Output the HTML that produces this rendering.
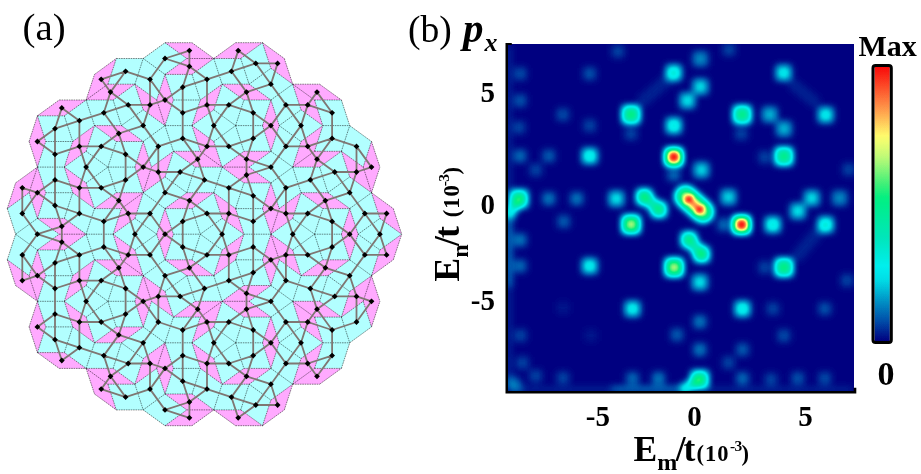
<!DOCTYPE html>
<html><head><meta charset="utf-8"><title>figure</title>
<style>html,body{margin:0;padding:0;background:#fff;width:921px;height:474px;overflow:hidden}svg{display:block}</style>
</head><body>
<svg width="921" height="474" viewBox="0 0 921 474">
<rect width="921" height="474" fill="#fff"/>
<path fill="#b2ffff" d="M37.4 115.8L64.3 115.8L72.7 141.5L45.7 141.5ZM37.4 167.1L64.3 167.1L72.7 192.7L45.7 192.7ZM37.4 250L64.3 250L72.7 275.7L45.7 275.7ZM37.4 301.3L64.3 301.3L72.7 326.9L45.7 326.9ZM86.1 100L113.1 100L121.4 125.6L94.5 125.6ZM107.9 167.1L134.9 167.1L143.2 192.7L116.3 192.7ZM86.1 234.2L113.1 234.2L121.4 259.8L94.5 259.8ZM107.9 301.3L134.9 301.3L143.2 326.9L116.3 326.9ZM107.9 384.2L134.9 384.2L143.2 409.9L116.3 409.9ZM165 74.4L192 74.4L200.3 100L173.3 100ZM165 125.6L192 125.6L200.3 151.3L173.3 151.3ZM165 208.6L192 208.6L200.3 234.2L173.3 234.2ZM186.8 275.7L213.8 275.7L222.1 301.3L195.2 301.3ZM165 342.8L192 342.8L200.3 368.4L173.4 368.4ZM213.8 58.5L240.7 58.5L249.1 84.2L222.1 84.2ZM235.6 125.6L262.5 125.6L270.9 151.3L243.9 151.3ZM235.6 208.6L262.5 208.6L270.9 234.2L243.9 234.2ZM235.6 259.8L262.5 259.8L270.9 285.5L243.9 285.5ZM235.6 342.8L262.5 342.8L270.9 368.4L243.9 368.4ZM314.5 100L341.4 100L349.7 125.6L322.8 125.6ZM292.7 167.1L319.6 167.1L327.9 192.7L301 192.7ZM314.5 234.2L341.4 234.2L349.7 259.8L322.8 259.8ZM314.5 317.1L341.4 317.1L349.7 342.8L322.8 342.8ZM37.4 352.6L64.3 352.6L72.7 326.9L45.7 326.9ZM37.4 301.3L64.3 301.3L72.7 275.7L45.7 275.7ZM37.4 218.4L64.3 218.4L72.7 192.7L45.7 192.7ZM37.4 167.1L64.3 167.1L72.7 141.5L45.7 141.5ZM86.1 368.4L113.1 368.4L121.4 342.8L94.5 342.8ZM107.9 301.3L134.9 301.3L143.2 275.7L116.3 275.7ZM86.1 234.2L113.1 234.2L121.4 208.6L94.5 208.6ZM107.9 167.1L134.9 167.1L143.2 141.5L116.3 141.5ZM107.9 84.2L134.9 84.2L143.2 58.5L116.3 58.5ZM165 394L192 394L200.3 368.4L173.4 368.4ZM165 342.8L192 342.8L200.3 317.1L173.4 317.1ZM165 259.8L192 259.8L200.3 234.2L173.3 234.2ZM186.8 192.7L213.8 192.7L222.1 167.1L195.2 167.1ZM165 125.6L192 125.6L200.3 100L173.3 100ZM213.8 409.9L240.7 409.9L249.1 384.2L222.1 384.2ZM235.6 342.8L262.5 342.8L270.9 317.1L243.9 317.1ZM235.6 259.8L262.5 259.8L270.9 234.2L243.9 234.2ZM235.6 208.6L262.5 208.6L270.9 182.9L243.9 182.9ZM235.6 125.6L262.5 125.6L270.9 100L243.9 100ZM314.5 368.4L341.4 368.4L349.7 342.8L322.8 342.8ZM292.7 301.3L319.6 301.3L327.9 275.7L301 275.7ZM314.5 234.2L341.4 234.2L349.7 208.6L322.8 208.6ZM314.5 151.3L341.4 151.3L349.7 125.6L322.8 125.6ZM262.5 42.7L270.9 68.3L249.1 84.2L240.7 58.5ZM213.8 58.5L222.1 84.2L200.3 100L192 74.4ZM134.9 84.2L143.2 109.8L121.4 125.6L113.1 100ZM86.1 100L94.5 125.6L72.7 141.5L64.3 115.8ZM292.7 84.2L301 109.8L279.2 125.6L270.9 100ZM235.6 125.6L243.9 151.3L222.1 167.1L213.8 141.5ZM165 125.6L173.3 151.3L151.5 167.1L143.2 141.5ZM107.9 167.1L116.3 192.7L94.5 208.6L86.1 182.9ZM29.1 192.7L37.4 218.4L15.6 234.2L7.3 208.6ZM341.4 151.3L349.7 176.9L327.9 192.7L319.6 167.1ZM292.7 167.1L301 192.7L279.2 208.6L270.9 182.9ZM213.8 192.7L222.1 218.4L200.3 234.2L192 208.6ZM156.7 234.2L165 259.8L143.2 275.7L134.9 250ZM86.1 234.2L94.5 259.8L72.7 275.7L64.3 250ZM371.5 192.7L379.9 218.4L358.1 234.2L349.7 208.6ZM314.5 234.2L322.8 259.8L301 275.7L292.7 250ZM235.6 259.8L243.9 285.5L222.1 301.3L213.8 275.7ZM186.8 275.7L195.2 301.3L173.4 317.1L165 291.5ZM107.9 301.3L116.3 326.9L94.5 342.8L86.1 317.1ZM363.2 301.3L371.5 326.9L349.7 342.8L341.4 317.1ZM292.7 301.3L301 326.9L279.2 342.8L270.9 317.1ZM235.6 342.8L243.9 368.4L222.1 384.2L213.8 358.6ZM156.7 368.4L165 394L143.2 409.9L134.9 384.2ZM401.7 234.2L379.9 250L358.1 234.2L379.9 218.4ZM371.5 192.7L349.7 208.6L327.9 192.7L349.7 176.9ZM322.8 125.6L301 141.5L279.2 125.6L301 109.8ZM292.7 84.2L270.9 100L249.1 84.2L270.9 68.3ZM371.5 275.7L349.7 291.5L327.9 275.7L349.7 259.8ZM314.5 234.2L292.7 250L270.9 234.2L292.7 218.4ZM292.7 167.1L270.9 182.9L249.1 167.1L270.9 151.3ZM235.6 125.6L213.8 141.5L192 125.6L213.8 109.8ZM186.8 58.5L165 74.4L143.2 58.5L165 42.7ZM322.8 342.8L301 358.6L279.2 342.8L301 326.9ZM292.7 301.3L270.9 317.1L249.1 301.3L270.9 285.5ZM243.9 234.2L222.1 250L200.3 234.2L222.1 218.4ZM186.8 192.7L165 208.6L143.2 192.7L165 176.9ZM165 125.6L143.2 141.5L121.4 125.6L143.2 109.8ZM292.7 384.2L270.9 400.1L249.1 384.2L270.9 368.4ZM235.6 342.8L213.8 358.6L192 342.8L213.8 326.9ZM186.8 275.7L165 291.5L143.2 275.7L165 259.8ZM156.7 234.2L134.9 250L113.1 234.2L134.9 218.4ZM107.9 167.1L86.1 182.9L64.3 167.1L86.1 151.3ZM186.8 409.9L165 425.7L143.2 409.9L165 394ZM165 342.8L143.2 358.6L121.4 342.8L143.2 326.9ZM107.9 301.3L86.1 317.1L64.3 301.3L86.1 285.5ZM59.2 234.2L37.4 250L15.6 234.2L37.4 218.4ZM262.5 425.7L240.7 409.9L249.1 384.2L270.9 400.1ZM292.7 384.2L270.9 368.4L279.2 342.8L301 358.6ZM341.4 317.1L319.6 301.3L327.9 275.7L349.7 291.5ZM371.5 275.7L349.7 259.8L358.1 234.2L379.9 250ZM213.8 409.9L192 394L200.3 368.4L222.1 384.2ZM235.6 342.8L213.8 326.9L222.1 301.3L243.9 317.1ZM292.7 301.3L270.9 285.5L279.2 259.8L301 275.7ZM314.5 234.2L292.7 218.4L301 192.7L322.8 208.6ZM363.2 167.1L341.4 151.3L349.7 125.6L371.5 141.5ZM134.9 384.2L113.1 368.4L121.4 342.8L143.2 358.6ZM165 342.8L143.2 326.9L151.5 301.3L173.4 317.1ZM213.8 275.7L192 259.8L200.3 234.2L222.1 250ZM235.6 208.6L213.8 192.7L222.1 167.1L243.9 182.9ZM292.7 167.1L270.9 151.3L279.2 125.6L301 141.5ZM86.1 368.4L64.3 352.6L72.7 326.9L94.5 342.8ZM107.9 301.3L86.1 285.5L94.5 259.8L116.3 275.7ZM156.7 234.2L134.9 218.4L143.2 192.7L165 208.6ZM186.8 192.7L165 176.9L173.3 151.3L195.2 167.1ZM235.6 125.6L213.8 109.8L222.1 84.2L243.9 100ZM29.1 275.7L7.3 259.8L15.6 234.2L37.4 250ZM86.1 234.2L64.3 218.4L72.7 192.7L94.5 208.6ZM107.9 167.1L86.1 151.3L94.5 125.6L116.3 141.5ZM156.7 100L134.9 84.2L143.2 58.5L165 74.4Z"/>
<path fill="#ffaaff" d="M59.2 100L86.1 100L64.3 115.8L37.4 115.8ZM59.2 234.2L86.1 234.2L64.3 250L37.4 250ZM107.9 84.2L134.9 84.2L113.1 100L86.1 100ZM116.3 192.7L143.2 192.7L121.4 208.6L94.5 208.6ZM116.3 326.9L143.2 326.9L121.4 342.8L94.5 342.8ZM186.8 58.5L213.8 58.5L192 74.4L165 74.4ZM186.8 192.7L213.8 192.7L192 208.6L165 208.6ZM195.2 301.3L222.1 301.3L200.3 317.1L173.4 317.1ZM186.8 409.9L213.8 409.9L192 425.7L165 425.7ZM235.6 42.7L262.5 42.7L240.7 58.5L213.8 58.5ZM243.9 151.3L270.9 151.3L249.1 167.1L222.1 167.1ZM243.9 285.5L270.9 285.5L249.1 301.3L222.1 301.3ZM243.9 368.4L270.9 368.4L249.1 384.2L222.1 384.2ZM314.5 151.3L341.4 151.3L319.6 167.1L292.7 167.1ZM322.8 259.8L349.7 259.8L327.9 275.7L301 275.7ZM314.5 368.4L341.4 368.4L319.6 384.2L292.7 384.2ZM59.2 368.4L86.1 368.4L64.3 352.6L37.4 352.6ZM59.2 234.2L86.1 234.2L64.3 218.4L37.4 218.4ZM107.9 384.2L134.9 384.2L113.1 368.4L86.1 368.4ZM116.3 275.7L143.2 275.7L121.4 259.8L94.5 259.8ZM116.3 141.5L143.2 141.5L121.4 125.6L94.5 125.6ZM186.8 409.9L213.8 409.9L192 394L165 394ZM186.8 275.7L213.8 275.7L192 259.8L165 259.8ZM195.2 167.1L222.1 167.1L200.3 151.3L173.3 151.3ZM186.8 58.5L213.8 58.5L192 42.7L165 42.7ZM235.6 425.7L262.5 425.7L240.7 409.9L213.8 409.9ZM243.9 317.1L270.9 317.1L249.1 301.3L222.1 301.3ZM243.9 182.9L270.9 182.9L249.1 167.1L222.1 167.1ZM243.9 100L270.9 100L249.1 84.2L222.1 84.2ZM314.5 317.1L341.4 317.1L319.6 301.3L292.7 301.3ZM322.8 208.6L349.7 208.6L327.9 192.7L301 192.7ZM314.5 100L341.4 100L319.6 84.2L292.7 84.2ZM284.3 58.5L292.7 84.2L270.9 68.3L262.5 42.7ZM156.7 100L165 125.6L143.2 109.8L134.9 84.2ZM314.5 100L322.8 125.6L301 109.8L292.7 84.2ZM213.8 141.5L222.1 167.1L200.3 151.3L192 125.6ZM86.1 182.9L94.5 208.6L72.7 192.7L64.3 167.1ZM363.2 167.1L371.5 192.7L349.7 176.9L341.4 151.3ZM235.6 208.6L243.9 234.2L222.1 218.4L213.8 192.7ZM134.9 250L143.2 275.7L121.4 259.8L113.1 234.2ZM29.1 275.7L37.4 301.3L15.6 285.5L7.3 259.8ZM393.3 208.6L401.7 234.2L379.9 218.4L371.5 192.7ZM292.7 250L301 275.7L279.2 259.8L270.9 234.2ZM165 291.5L173.4 317.1L151.5 301.3L143.2 275.7ZM86.1 317.1L94.5 342.8L72.7 326.9L64.3 301.3ZM314.5 317.1L322.8 342.8L301 326.9L292.7 301.3ZM213.8 358.6L222.1 384.2L200.3 368.4L192 342.8ZM107.9 384.2L116.3 409.9L94.5 394L86.1 368.4ZM29.1 141.5L37.4 167.1L45.7 141.5L37.4 115.8ZM156.7 100L165 125.6L173.3 100L165 74.4ZM29.1 192.7L37.4 218.4L45.7 192.7L37.4 167.1ZM134.9 167.1L143.2 192.7L151.5 167.1L143.2 141.5ZM262.5 125.6L270.9 151.3L279.2 125.6L270.9 100ZM29.1 275.7L37.4 301.3L45.7 275.7L37.4 250ZM156.7 234.2L165 259.8L173.3 234.2L165 208.6ZM262.5 208.6L270.9 234.2L279.2 208.6L270.9 182.9ZM363.2 167.1L371.5 192.7L379.9 167.1L371.5 141.5ZM29.1 326.9L37.4 352.6L45.7 326.9L37.4 301.3ZM134.9 301.3L143.2 326.9L151.5 301.3L143.2 275.7ZM262.5 259.8L270.9 285.5L279.2 259.8L270.9 234.2ZM341.4 234.2L349.7 259.8L358.1 234.2L349.7 208.6ZM156.7 368.4L165 394L173.4 368.4L165 342.8ZM262.5 342.8L270.9 368.4L279.2 342.8L270.9 317.1ZM363.2 301.3L371.5 326.9L379.9 301.3L371.5 275.7ZM393.3 259.8L371.5 275.7L379.9 250L401.7 234.2ZM314.5 151.3L292.7 167.1L301 141.5L322.8 125.6ZM363.2 301.3L341.4 317.1L349.7 291.5L371.5 275.7ZM292.7 218.4L270.9 234.2L279.2 208.6L301 192.7ZM213.8 109.8L192 125.6L200.3 100L222.1 84.2ZM314.5 368.4L292.7 384.2L301 358.6L322.8 342.8ZM235.6 259.8L213.8 275.7L222.1 250L243.9 234.2ZM165 176.9L143.2 192.7L151.5 167.1L173.3 151.3ZM107.9 84.2L86.1 100L94.5 74.4L116.3 58.5ZM284.3 409.9L262.5 425.7L270.9 400.1L292.7 384.2ZM213.8 326.9L192 342.8L200.3 317.1L222.1 301.3ZM134.9 218.4L113.1 234.2L121.4 208.6L143.2 192.7ZM86.1 151.3L64.3 167.1L72.7 141.5L94.5 125.6ZM156.7 368.4L134.9 384.2L143.2 358.6L165 342.8ZM86.1 285.5L64.3 301.3L72.7 275.7L94.5 259.8ZM29.1 192.7L7.3 208.6L15.6 182.9L37.4 167.1Z"/>
<path fill="none" stroke="#000" stroke-opacity="0.6" stroke-width="0.8" stroke-dasharray="1.6 0.8" d="M37.4 115.8L64.3 115.8M64.3 115.8L72.7 141.5M45.7 141.5L72.7 141.5M37.4 115.8L45.7 141.5M37.4 167.1L64.3 167.1M64.3 167.1L72.7 192.7M45.7 192.7L72.7 192.7M37.4 167.1L45.7 192.7M37.4 250L64.3 250M64.3 250L72.7 275.7M45.7 275.7L72.7 275.7M37.4 250L45.7 275.7M37.4 301.3L64.3 301.3M64.3 301.3L72.7 326.9M45.7 326.9L72.7 326.9M37.4 301.3L45.7 326.9M86.1 100L113.1 100M113.1 100L121.4 125.6M94.5 125.6L121.4 125.6M86.1 100L94.5 125.6M107.9 167.1L134.9 167.1M134.9 167.1L143.2 192.7M116.3 192.7L143.2 192.7M107.9 167.1L116.3 192.7M86.1 234.2L113.1 234.2M113.1 234.2L121.4 259.8M94.5 259.8L121.4 259.8M86.1 234.2L94.5 259.8M107.9 301.3L134.9 301.3M134.9 301.3L143.2 326.9M116.3 326.9L143.2 326.9M107.9 301.3L116.3 326.9M107.9 384.2L134.9 384.2M134.9 384.2L143.2 409.9M116.3 409.9L143.2 409.9M107.9 384.2L116.3 409.9M165 74.4L192 74.4M192 74.4L200.3 100M173.4 100L200.3 100M165 74.4L173.4 100M165 125.6L192 125.6M192 125.6L200.3 151.3M173.4 151.3L200.3 151.3M165 125.6L173.4 151.3M165 208.6L192 208.6M192 208.6L200.3 234.2M173.4 234.2L200.3 234.2M165 208.6L173.4 234.2M186.8 275.7L213.8 275.7M213.8 275.7L222.1 301.3M195.2 301.3L222.1 301.3M186.8 275.7L195.2 301.3M165 342.8L192 342.8M192 342.8L200.3 368.4M173.4 368.4L200.3 368.4M165 342.8L173.4 368.4M213.8 58.5L240.7 58.5M240.7 58.5L249.1 84.2M222.1 84.2L249.1 84.2M213.8 58.5L222.1 84.2M235.6 125.6L262.5 125.6M262.5 125.6L270.9 151.3M243.9 151.3L270.9 151.3M235.6 125.6L243.9 151.3M235.6 208.6L262.5 208.6M262.5 208.6L270.9 234.2M243.9 234.2L270.9 234.2M235.6 208.6L243.9 234.2M235.6 259.8L262.5 259.8M262.5 259.8L270.9 285.5M243.9 285.5L270.9 285.5M235.6 259.8L243.9 285.5M235.6 342.8L262.5 342.8M262.5 342.8L270.9 368.4M243.9 368.4L270.9 368.4M235.6 342.8L243.9 368.4M314.5 100L341.4 100M341.4 100L349.7 125.6M322.8 125.6L349.7 125.6M314.5 100L322.8 125.6M292.7 167.1L319.6 167.1M319.6 167.1L327.9 192.7M301 192.7L327.9 192.7M292.7 167.1L301 192.7M314.5 234.2L341.4 234.2M341.4 234.2L349.7 259.8M322.8 259.8L349.7 259.8M314.5 234.2L322.8 259.8M314.5 317.1L341.4 317.1M341.4 317.1L349.7 342.8M322.8 342.8L349.7 342.8M314.5 317.1L322.8 342.8M59.2 100L86.1 100M64.3 115.8L86.1 100M37.4 115.8L59.2 100M59.2 234.2L86.1 234.2M64.3 250L86.1 234.2M37.4 250L59.2 234.2M107.9 84.2L134.9 84.2M113.1 100L134.9 84.2M86.1 100L107.9 84.2M121.4 208.6L143.2 192.7M94.5 208.6L121.4 208.6M94.5 208.6L116.3 192.7M121.4 342.8L143.2 326.9M94.5 342.8L121.4 342.8M94.5 342.8L116.3 326.9M186.8 58.5L213.8 58.5M192 74.4L213.8 58.5M165 74.4L186.8 58.5M186.8 192.7L213.8 192.7M192 208.6L213.8 192.7M165 208.6L186.8 192.7M200.3 317.1L222.1 301.3M173.4 317.1L200.3 317.1M173.4 317.1L195.2 301.3M186.8 409.9L213.8 409.9M192 425.7L213.8 409.9M165 425.7L192 425.7M165 425.7L186.8 409.9M235.6 42.7L262.5 42.7M240.7 58.5L262.5 42.7M213.8 58.5L235.6 42.7M249.1 167.1L270.9 151.3M222.1 167.1L249.1 167.1M222.1 167.1L243.9 151.3M249.1 301.3L270.9 285.5M222.1 301.3L249.1 301.3M222.1 301.3L243.9 285.5M249.1 384.2L270.9 368.4M222.1 384.2L249.1 384.2M222.1 384.2L243.9 368.4M314.5 151.3L341.4 151.3M319.6 167.1L341.4 151.3M292.7 167.1L314.5 151.3M327.9 275.7L349.7 259.8M301 275.7L327.9 275.7M301 275.7L322.8 259.8M314.5 368.4L341.4 368.4M319.6 384.2L341.4 368.4M292.7 384.2L319.6 384.2M292.7 384.2L314.5 368.4M59.2 368.4L86.1 368.4M64.3 352.6L86.1 368.4M37.4 352.6L64.3 352.6M37.4 352.6L59.2 368.4M64.3 218.4L86.1 234.2M37.4 218.4L64.3 218.4M37.4 218.4L59.2 234.2M113.1 368.4L134.9 384.2M86.1 368.4L113.1 368.4M86.1 368.4L107.9 384.2M116.3 275.7L143.2 275.7M121.4 259.8L143.2 275.7M94.5 259.8L116.3 275.7M116.3 141.5L143.2 141.5M121.4 125.6L143.2 141.5M94.5 125.6L116.3 141.5M192 394L213.8 409.9M165 394L192 394M165 394L186.8 409.9M192 259.8L213.8 275.7M165 259.8L192 259.8M165 259.8L186.8 275.7M195.2 167.1L222.1 167.1M200.3 151.3L222.1 167.1M173.4 151.3L195.2 167.1M192 42.7L213.8 58.5M165 42.7L192 42.7M165 42.7L186.8 58.5M235.6 425.7L262.5 425.7M240.7 409.9L262.5 425.7M213.8 409.9L240.7 409.9M213.8 409.9L235.6 425.7M243.9 317.1L270.9 317.1M249.1 301.3L270.9 317.1M222.1 301.3L243.9 317.1M243.9 182.9L270.9 182.9M249.1 167.1L270.9 182.9M222.1 167.1L243.9 182.9M243.9 100L270.9 100M249.1 84.2L270.9 100M222.1 84.2L243.9 100M319.6 301.3L341.4 317.1M292.7 301.3L319.6 301.3M292.7 301.3L314.5 317.1M322.8 208.6L349.7 208.6M327.9 192.7L349.7 208.6M301 192.7L322.8 208.6M319.6 84.2L341.4 100M292.7 84.2L319.6 84.2M292.7 84.2L314.5 100M64.3 352.6L72.7 326.9M37.4 352.6L45.7 326.9M64.3 301.3L72.7 275.7M37.4 301.3L45.7 275.7M64.3 218.4L72.7 192.7M37.4 218.4L45.7 192.7M64.3 167.1L72.7 141.5M37.4 167.1L45.7 141.5M113.1 368.4L121.4 342.8M86.1 368.4L94.5 342.8M134.9 301.3L143.2 275.7M107.9 301.3L116.3 275.7M113.1 234.2L121.4 208.6M86.1 234.2L94.5 208.6M134.9 167.1L143.2 141.5M107.9 167.1L116.3 141.5M134.9 84.2L143.2 58.5M116.3 58.5L143.2 58.5M107.9 84.2L116.3 58.5M192 394L200.3 368.4M165 394L173.4 368.4M192 342.8L200.3 317.1M165 342.8L173.4 317.1M192 259.8L200.3 234.2M165 259.8L173.4 234.2M213.8 192.7L222.1 167.1M186.8 192.7L195.2 167.1M192 125.6L200.3 100M165 125.6L173.4 100M240.7 409.9L249.1 384.2M213.8 409.9L222.1 384.2M262.5 342.8L270.9 317.1M235.6 342.8L243.9 317.1M262.5 259.8L270.9 234.2M235.6 259.8L243.9 234.2M262.5 208.6L270.9 182.9M235.6 208.6L243.9 182.9M262.5 125.6L270.9 100M235.6 125.6L243.9 100M341.4 368.4L349.7 342.8M314.5 368.4L322.8 342.8M319.6 301.3L327.9 275.7M292.7 301.3L301 275.7M341.4 234.2L349.7 208.6M314.5 234.2L322.8 208.6M341.4 151.3L349.7 125.6M314.5 151.3L322.8 125.6M262.5 42.7L270.9 68.3M249.1 84.2L270.9 68.3M200.3 100L222.1 84.2M134.9 84.2L143.2 109.8M121.4 125.6L143.2 109.8M72.7 141.5L94.5 125.6M292.7 84.2L301 109.8M279.2 125.6L301 109.8M270.9 100L279.2 125.6M270.9 100L292.7 84.2M213.8 141.5L222.1 167.1M213.8 141.5L235.6 125.6M151.5 167.1L173.4 151.3M143.2 141.5L151.5 167.1M143.2 141.5L165 125.6M86.1 182.9L94.5 208.6M86.1 182.9L107.9 167.1M29.1 192.7L37.4 218.4M15.6 234.2L37.4 218.4M7.3 208.6L15.6 234.2M7.3 208.6L29.1 192.7M341.4 151.3L349.7 176.9M327.9 192.7L349.7 176.9M279.2 208.6L301 192.7M270.9 182.9L279.2 208.6M270.9 182.9L292.7 167.1M213.8 192.7L222.1 218.4M200.3 234.2L222.1 218.4M156.7 234.2L165 259.8M143.2 275.7L165 259.8M134.9 250L143.2 275.7M134.9 250L156.7 234.2M72.7 275.7L94.5 259.8M371.5 192.7L379.9 218.4M358.1 234.2L379.9 218.4M349.7 208.6L358.1 234.2M349.7 208.6L371.5 192.7M292.7 250L301 275.7M292.7 250L314.5 234.2M213.8 275.7L235.6 259.8M165 291.5L173.4 317.1M165 291.5L186.8 275.7M86.1 317.1L94.5 342.8M86.1 317.1L107.9 301.3M363.2 301.3L371.5 326.9M349.7 342.8L371.5 326.9M341.4 317.1L363.2 301.3M292.7 301.3L301 326.9M279.2 342.8L301 326.9M270.9 317.1L279.2 342.8M270.9 317.1L292.7 301.3M213.8 358.6L222.1 384.2M213.8 358.6L235.6 342.8M156.7 368.4L165 394M143.2 409.9L165 394M134.9 384.2L156.7 368.4M284.3 58.5L292.7 84.2M270.9 68.3L292.7 84.2M262.5 42.7L284.3 58.5M156.7 100L165 125.6M143.2 109.8L165 125.6M134.9 84.2L156.7 100M301 109.8L322.8 125.6M192 125.6L213.8 141.5M72.7 192.7L94.5 208.6M64.3 167.1L86.1 182.9M363.2 167.1L371.5 192.7M349.7 176.9L371.5 192.7M341.4 151.3L363.2 167.1M222.1 218.4L243.9 234.2M213.8 192.7L235.6 208.6M113.1 234.2L134.9 250M29.1 275.7L37.4 301.3M15.6 285.5L37.4 301.3M7.3 259.8L15.6 285.5M7.3 259.8L29.1 275.7M393.3 208.6L401.7 234.2M379.9 218.4L401.7 234.2M371.5 192.7L393.3 208.6M279.2 259.8L301 275.7M270.9 234.2L279.2 259.8M270.9 234.2L292.7 250M151.5 301.3L173.4 317.1M143.2 275.7L151.5 301.3M143.2 275.7L165 291.5M72.7 326.9L94.5 342.8M64.3 301.3L86.1 317.1M301 326.9L322.8 342.8M200.3 368.4L222.1 384.2M192 342.8L213.8 358.6M94.5 394L116.3 409.9M86.1 368.4L94.5 394M29.1 141.5L37.4 167.1M29.1 141.5L37.4 115.8M156.7 100L165 74.4M29.1 192.7L37.4 167.1M143.2 192.7L151.5 167.1M270.9 151.3L279.2 125.6M29.1 275.7L37.4 250M156.7 234.2L165 208.6M270.9 234.2L279.2 208.6M371.5 192.7L379.9 167.1M371.5 141.5L379.9 167.1M363.2 167.1L371.5 141.5M29.1 326.9L37.4 352.6M29.1 326.9L37.4 301.3M143.2 326.9L151.5 301.3M270.9 285.5L279.2 259.8M349.7 259.8L358.1 234.2M156.7 368.4L165 342.8M270.9 368.4L279.2 342.8M371.5 326.9L379.9 301.3M371.5 275.7L379.9 301.3M363.2 301.3L371.5 275.7M379.9 250L401.7 234.2M358.1 234.2L379.9 250M301 141.5L322.8 125.6M279.2 125.6L301 141.5M349.7 291.5L371.5 275.7M327.9 275.7L349.7 291.5M349.7 259.8L371.5 275.7M270.9 234.2L292.7 218.4M292.7 218.4L314.5 234.2M270.9 151.3L292.7 167.1M192 125.6L213.8 109.8M213.8 109.8L235.6 125.6M143.2 58.5L165 74.4M143.2 58.5L165 42.7M301 358.6L322.8 342.8M279.2 342.8L301 358.6M270.9 285.5L292.7 301.3M222.1 250L243.9 234.2M200.3 234.2L222.1 250M143.2 192.7L165 208.6M143.2 192.7L165 176.9M165 176.9L186.8 192.7M270.9 400.1L292.7 384.2M249.1 384.2L270.9 400.1M270.9 368.4L292.7 384.2M192 342.8L213.8 326.9M213.8 326.9L235.6 342.8M113.1 234.2L134.9 218.4M134.9 218.4L156.7 234.2M64.3 167.1L86.1 151.3M86.1 151.3L107.9 167.1M143.2 409.9L165 425.7M143.2 358.6L165 342.8M121.4 342.8L143.2 358.6M143.2 326.9L165 342.8M64.3 301.3L86.1 285.5M86.1 285.5L107.9 301.3M15.6 234.2L37.4 250M371.5 275.7L393.3 259.8M371.5 275.7L379.9 250M393.3 259.8L401.7 234.2M292.7 167.1L301 141.5M341.4 317.1L349.7 291.5M292.7 218.4L301 192.7M213.8 109.8L222.1 84.2M292.7 384.2L301 358.6M213.8 275.7L222.1 250M165 176.9L173.4 151.3M86.1 100L94.5 74.4M94.5 74.4L116.3 58.5M262.5 425.7L284.3 409.9M262.5 425.7L270.9 400.1M284.3 409.9L292.7 384.2M213.8 326.9L222.1 301.3M134.9 218.4L143.2 192.7M86.1 151.3L94.5 125.6M134.9 384.2L143.2 358.6M86.1 285.5L94.5 259.8M7.3 208.6L15.6 182.9M15.6 182.9L37.4 167.1M349.7 125.6L371.5 141.5M7.3 259.8L15.6 234.2"/>
<path fill="none" stroke="#7f7773" stroke-width="1.8" stroke-linecap="round" d="M55 128.7L61.8 107.9M55 128.7L79.4 120.7M55 128.7L55 154.3M55 128.7L37.4 141.5M55 179.9L55 154.3M55 179.9L79.4 187.8M55 179.9L55 205.5M55 179.9L37.4 192.7M55 262.9L61.8 242.1M55 262.9L79.4 254.9M55 262.9L55 288.5M55 262.9L37.4 275.7M55 314.1L55 288.5M55 314.1L79.4 322M55 314.1L55 339.7M55 314.1L37.4 326.9M103.8 112.8L110.5 92.1M103.8 112.8L128.2 104.9M103.8 112.8L118.8 133.5M103.8 112.8L79.4 120.7M125.6 179.9L125.6 154.3M125.6 179.9L143.2 167.1M125.6 179.9L118.8 200.6M125.6 179.9L101.2 187.8M103.8 247L103.8 221.4M103.8 247L128.2 254.9M103.8 247L118.8 267.8M103.8 247L79.4 254.9M125.6 314.1L125.6 288.5M125.6 314.1L143.2 301.3M125.6 314.1L118.8 334.9M125.6 314.1L101.2 322M125.6 397.1L110.5 376.3M125.6 397.1L150 389.1M125.6 397.1L101.2 389.1M182.7 87.2L189.4 66.4M182.7 87.2L207 79.3M182.7 87.2L182.7 112.8M182.7 87.2L165 100M182.7 138.4L182.7 112.8M182.7 138.4L207 146.4M182.7 138.4L197.7 159.2M182.7 138.4L158.3 146.4M182.7 221.4L189.4 200.6M182.7 221.4L207 213.5M182.7 221.4L182.7 247M182.7 221.4L165 234.2M204.5 288.5L189.4 267.8M204.5 288.5L228.8 280.6M204.5 288.5L197.7 309.2M204.5 288.5L180.1 296.4M182.7 355.6L182.7 330M182.7 355.6L207 363.5M182.7 355.6L182.7 381.2M182.7 355.6L165 368.4M231.4 71.3L238.2 50.6M231.4 71.3L255.8 63.4M231.4 71.3L246.5 92.1M231.4 71.3L207 79.3M253.2 138.4L253.2 112.8M253.2 138.4L270.9 125.6M253.2 138.4L246.5 159.2M253.2 138.4L228.8 146.4M253.2 221.4L253.2 195.8M253.2 221.4L270.9 208.6M253.2 221.4L253.2 247M253.2 221.4L228.8 213.5M253.2 272.6L253.2 247M253.2 272.6L270.9 259.8M253.2 272.6L246.5 293.4M253.2 272.6L228.8 280.6M253.2 355.6L253.2 330M253.2 355.6L270.9 342.8M253.2 355.6L246.5 376.3M253.2 355.6L228.8 363.5M332.1 112.8L317 92.1M332.1 112.8L332.1 138.4M332.1 112.8L307.7 104.9M310.3 179.9L317 159.2M310.3 179.9L334.7 172M310.3 179.9L325.4 200.6M310.3 179.9L285.9 187.8M332.1 247L332.1 221.4M332.1 247L349.7 234.2M332.1 247L325.4 267.8M332.1 247L307.7 254.9M332.1 330L317 309.2M332.1 330L356.5 322M332.1 330L332.1 355.6M332.1 330L307.7 322M61.8 107.9L79.4 120.7M61.8 242.1L61.8 226.3M61.8 242.1L79.4 254.9M61.8 242.1L37.4 234.2M110.5 92.1L125.6 71.3M110.5 92.1L128.2 104.9M110.5 92.1L101.2 79.3M118.8 200.6L128.2 213.5M118.8 200.6L103.8 221.4M118.8 200.6L101.2 187.8M118.8 334.9L143.2 342.8M118.8 334.9L103.8 355.6M118.8 334.9L101.2 322M189.4 66.4L189.4 50.6M189.4 66.4L207 79.3M189.4 66.4L165 58.5M189.4 200.6L204.5 179.9M189.4 200.6L207 213.5M189.4 200.6L165 192.7M197.7 309.2L207 322M197.7 309.2L182.7 330M197.7 309.2L180.1 296.4M189.4 417.8L189.4 402M189.4 417.8L165 409.9M238.2 50.6L255.8 63.4M246.5 159.2L270.9 167.1M246.5 159.2L246.5 175M246.5 159.2L228.8 146.4M246.5 293.4L270.9 301.3M246.5 293.4L246.5 309.2M246.5 293.4L228.8 280.6M246.5 376.3L270.9 384.2M246.5 376.3L231.4 397.1M246.5 376.3L228.8 363.5M317 159.2L332.1 138.4M317 159.2L334.7 172M317 159.2L307.7 146.4M325.4 267.8L349.7 275.7M325.4 267.8L310.3 288.5M325.4 267.8L307.7 254.9M317 376.3L332.1 355.6M317 376.3L307.7 363.5M61.8 360.5L79.4 347.7M61.8 360.5L55 339.7M61.8 226.3L79.4 213.5M61.8 226.3L55 205.5M61.8 226.3L37.4 234.2M110.5 376.3L128.2 363.5M110.5 376.3L103.8 355.6M110.5 376.3L101.2 389.1M118.8 267.8L125.6 288.5M118.8 267.8L128.2 254.9M118.8 267.8L101.2 280.6M118.8 133.5L125.6 154.3M118.8 133.5L143.2 125.6M118.8 133.5L101.2 146.4M189.4 402L207 389.1M189.4 402L182.7 381.2M189.4 402L165 409.9M189.4 267.8L207 254.9M189.4 267.8L182.7 247M189.4 267.8L165 275.7M197.7 159.2L204.5 179.9M197.7 159.2L207 146.4M197.7 159.2L180.1 172M189.4 50.6L165 58.5M238.2 417.8L255.8 405M238.2 417.8L231.4 397.1M246.5 309.2L253.2 330M246.5 309.2L270.9 301.3M246.5 309.2L228.8 322M246.5 175L253.2 195.8M246.5 175L270.9 167.1M246.5 175L228.8 187.8M246.5 92.1L253.2 112.8M246.5 92.1L270.9 84.2M246.5 92.1L228.8 104.9M317 309.2L334.7 296.4M317 309.2L310.3 288.5M317 309.2L307.7 322M325.4 200.6L332.1 221.4M325.4 200.6L349.7 192.7M325.4 200.6L307.7 213.5M317 92.1L307.7 104.9M55 339.7L79.4 347.7M55 339.7L37.4 326.9M55 288.5L79.4 280.6M55 288.5L37.4 275.7M55 205.5L79.4 213.5M55 205.5L37.4 192.7M55 154.3L79.4 146.4M55 154.3L37.4 141.5M103.8 355.6L128.2 363.5M103.8 355.6L79.4 347.7M125.6 288.5L143.2 301.3M125.6 288.5L101.2 280.6M103.8 221.4L128.2 213.5M103.8 221.4L79.4 213.5M125.6 154.3L143.2 167.1M125.6 154.3L101.2 146.4M125.6 71.3L150 79.3M125.6 71.3L101.2 79.3M182.7 381.2L207 389.1M182.7 381.2L165 368.4M182.7 330L207 322M182.7 330L158.3 322M182.7 247L207 254.9M182.7 247L165 234.2M204.5 179.9L228.8 187.8M204.5 179.9L180.1 172M182.7 112.8L207 104.9M182.7 112.8L165 100M231.4 397.1L255.8 405M231.4 397.1L207 389.1M253.2 330L270.9 342.8M253.2 330L228.8 322M253.2 247L270.9 259.8M253.2 247L228.8 254.9M253.2 195.8L270.9 208.6M253.2 195.8L228.8 187.8M253.2 112.8L270.9 125.6M253.2 112.8L228.8 104.9M332.1 355.6L307.7 363.5M310.3 288.5L334.7 296.4M310.3 288.5L285.9 280.6M332.1 221.4L349.7 234.2M332.1 221.4L307.7 213.5M332.1 138.4L356.5 146.4M332.1 138.4L307.7 146.4M255.8 63.4L277.6 63.4M255.8 63.4L270.9 84.2M207 79.3L207 104.9M128.2 104.9L150 104.9M128.2 104.9L143.2 125.6M79.4 120.7L79.4 146.4M285.9 104.9L307.7 104.9M285.9 104.9L301 125.6M285.9 104.9L270.9 125.6M285.9 104.9L270.9 84.2M228.8 146.4L207 146.4M228.8 146.4L213.8 125.6M158.3 146.4L158.3 172M158.3 146.4L143.2 167.1M158.3 146.4L143.2 125.6M101.2 187.8L79.4 187.8M101.2 187.8L86.1 167.1M22.3 213.5L37.4 192.7M22.3 213.5L37.4 234.2M22.3 213.5L22.3 187.8M334.7 172L356.5 172M334.7 172L349.7 192.7M285.9 187.8L285.9 213.5M285.9 187.8L270.9 208.6M285.9 187.8L270.9 167.1M207 213.5L228.8 213.5M207 213.5L222.1 234.2M150 254.9L165 234.2M150 254.9L165 275.7M150 254.9L128.2 254.9M150 254.9L134.9 234.2M79.4 254.9L79.4 280.6M364.8 213.5L386.6 213.5M364.8 213.5L379.9 234.2M364.8 213.5L349.7 234.2M364.8 213.5L349.7 192.7M307.7 254.9L285.9 254.9M307.7 254.9L292.7 234.2M228.8 280.6L228.8 254.9M180.1 296.4L158.3 296.4M180.1 296.4L165 275.7M101.2 322L79.4 322M101.2 322L86.1 301.3M356.5 322L371.5 301.3M356.5 322L356.5 296.4M285.9 322L307.7 322M285.9 322L301 342.8M285.9 322L270.9 342.8M285.9 322L270.9 301.3M228.8 363.5L207 363.5M228.8 363.5L213.8 342.8M150 389.1L165 368.4M150 389.1L165 409.9M150 389.1L150 363.5M277.6 63.4L270.9 84.2M150 104.9L165 100M150 104.9L143.2 125.6M150 104.9L150 79.3M307.7 104.9L301 125.6M207 146.4L213.8 125.6M79.4 187.8L79.4 213.5M79.4 187.8L86.1 167.1M356.5 172L371.5 167.1M356.5 172L349.7 192.7M356.5 172L356.5 146.4M228.8 213.5L222.1 234.2M228.8 213.5L228.8 187.8M128.2 254.9L134.9 234.2M22.3 280.6L37.4 275.7M22.3 280.6L22.3 254.9M386.6 213.5L379.9 234.2M285.9 254.9L285.9 280.6M285.9 254.9L270.9 259.8M285.9 254.9L292.7 234.2M158.3 296.4L158.3 322M158.3 296.4L143.2 301.3M158.3 296.4L165 275.7M79.4 322L79.4 347.7M79.4 322L86.1 301.3M307.7 322L301 342.8M207 363.5L207 389.1M207 363.5L213.8 342.8M165 100L150 79.3M37.4 192.7L22.3 187.8M143.2 167.1L158.3 172M270.9 125.6L285.9 146.4M37.4 275.7L22.3 254.9M165 234.2L150 213.5M270.9 208.6L285.9 213.5M371.5 167.1L356.5 146.4M143.2 301.3L158.3 322M270.9 259.8L285.9 280.6M349.7 234.2L364.8 254.9M165 368.4L150 363.5M270.9 342.8L285.9 363.5M371.5 301.3L356.5 296.4M379.9 234.2L386.6 254.9M379.9 234.2L364.8 254.9M301 125.6L307.7 146.4M301 125.6L285.9 146.4M349.7 275.7L356.5 296.4M349.7 275.7L334.7 296.4M349.7 275.7L364.8 254.9M292.7 234.2L285.9 213.5M292.7 234.2L307.7 213.5M270.9 167.1L285.9 146.4M213.8 125.6L207 104.9M213.8 125.6L228.8 104.9M165 58.5L150 79.3M301 342.8L307.7 363.5M301 342.8L285.9 363.5M270.9 301.3L285.9 280.6M222.1 234.2L228.8 254.9M222.1 234.2L207 254.9M165 192.7L150 213.5M165 192.7L158.3 172M165 192.7L180.1 172M270.9 384.2L277.6 405M270.9 384.2L255.8 405M270.9 384.2L285.9 363.5M213.8 342.8L207 322M213.8 342.8L228.8 322M134.9 234.2L128.2 213.5M134.9 234.2L150 213.5M86.1 167.1L79.4 146.4M86.1 167.1L101.2 146.4M143.2 342.8L150 363.5M143.2 342.8L128.2 363.5M143.2 342.8L158.3 322M86.1 301.3L79.4 280.6M86.1 301.3L101.2 280.6M37.4 234.2L22.3 254.9M386.6 254.9L364.8 254.9M307.7 146.4L285.9 146.4M356.5 296.4L334.7 296.4M285.9 213.5L307.7 213.5M207 104.9L228.8 104.9M307.7 363.5L285.9 363.5M228.8 254.9L207 254.9M158.3 172L180.1 172M277.6 405L255.8 405M207 322L228.8 322M128.2 213.5L150 213.5M79.4 146.4L101.2 146.4M150 363.5L128.2 363.5M79.4 280.6L101.2 280.6"/>
<path fill="#000" d="M52.1 128.7L55 125.8L57.9 128.7L55 131.6ZM52.1 179.9L55 177L57.9 179.9L55 182.8ZM52.1 262.9L55 260L57.9 262.9L55 265.8ZM52.1 314.1L55 311.2L57.9 314.1L55 317ZM100.9 112.8L103.8 109.9L106.7 112.8L103.8 115.7ZM122.7 179.9L125.6 177L128.5 179.9L125.6 182.8ZM100.9 247L103.8 244.1L106.7 247L103.8 249.9ZM122.7 314.1L125.6 311.2L128.5 314.1L125.6 317ZM122.7 397.1L125.6 394.2L128.5 397.1L125.6 400ZM179.8 87.2L182.7 84.3L185.6 87.2L182.7 90.1ZM179.8 138.4L182.7 135.5L185.6 138.4L182.7 141.3ZM179.8 221.4L182.7 218.5L185.6 221.4L182.7 224.3ZM201.6 288.5L204.5 285.6L207.4 288.5L204.5 291.4ZM179.8 355.6L182.7 352.7L185.6 355.6L182.7 358.5ZM228.5 71.3L231.4 68.4L234.3 71.3L231.4 74.2ZM250.3 138.4L253.2 135.5L256.1 138.4L253.2 141.3ZM250.3 221.4L253.2 218.5L256.1 221.4L253.2 224.3ZM250.3 272.6L253.2 269.7L256.1 272.6L253.2 275.5ZM250.3 355.6L253.2 352.7L256.1 355.6L253.2 358.5ZM329.2 112.8L332.1 109.9L335 112.8L332.1 115.7ZM307.4 179.9L310.3 177L313.2 179.9L310.3 182.8ZM329.2 247L332.1 244.1L335 247L332.1 249.9ZM329.2 330L332.1 327.1L335 330L332.1 332.9ZM58.9 107.9L61.8 105L64.7 107.9L61.8 110.8ZM58.9 242.1L61.8 239.2L64.7 242.1L61.8 245ZM107.6 92.1L110.5 89.2L113.4 92.1L110.5 95ZM115.9 200.6L118.8 197.7L121.7 200.6L118.8 203.5ZM115.9 334.9L118.8 332L121.7 334.9L118.8 337.8ZM186.5 66.4L189.4 63.5L192.3 66.4L189.4 69.3ZM186.5 200.6L189.4 197.7L192.3 200.6L189.4 203.5ZM194.8 309.2L197.7 306.3L200.6 309.2L197.7 312.1ZM186.5 417.8L189.4 414.9L192.3 417.8L189.4 420.7ZM235.3 50.6L238.2 47.7L241.1 50.6L238.2 53.5ZM243.6 159.2L246.5 156.3L249.4 159.2L246.5 162.1ZM243.6 293.4L246.5 290.5L249.4 293.4L246.5 296.3ZM243.6 376.3L246.5 373.4L249.4 376.3L246.5 379.2ZM314.1 159.2L317 156.3L319.9 159.2L317 162.1ZM322.5 267.8L325.4 264.9L328.3 267.8L325.4 270.7ZM314.1 376.3L317 373.4L319.9 376.3L317 379.2ZM58.9 360.5L61.8 357.6L64.7 360.5L61.8 363.4ZM58.9 226.3L61.8 223.4L64.7 226.3L61.8 229.2ZM107.6 376.3L110.5 373.4L113.4 376.3L110.5 379.2ZM115.9 267.8L118.8 264.9L121.7 267.8L118.8 270.7ZM115.9 133.5L118.8 130.6L121.7 133.5L118.8 136.4ZM186.5 402L189.4 399.1L192.3 402L189.4 404.9ZM186.5 267.8L189.4 264.9L192.3 267.8L189.4 270.7ZM194.8 159.2L197.7 156.3L200.6 159.2L197.7 162.1ZM186.5 50.6L189.4 47.7L192.3 50.6L189.4 53.5ZM235.3 417.8L238.2 414.9L241.1 417.8L238.2 420.7ZM243.6 309.2L246.5 306.3L249.4 309.2L246.5 312.1ZM243.6 175L246.5 172.1L249.4 175L246.5 177.9ZM243.6 92.1L246.5 89.2L249.4 92.1L246.5 95ZM314.1 309.2L317 306.3L319.9 309.2L317 312.1ZM322.5 200.6L325.4 197.7L328.3 200.6L325.4 203.5ZM314.1 92.1L317 89.2L319.9 92.1L317 95ZM52.1 339.7L55 336.8L57.9 339.7L55 342.6ZM52.1 288.5L55 285.6L57.9 288.5L55 291.4ZM52.1 205.5L55 202.6L57.9 205.5L55 208.4ZM52.1 154.3L55 151.4L57.9 154.3L55 157.2ZM100.9 355.6L103.8 352.7L106.7 355.6L103.8 358.5ZM122.7 288.5L125.6 285.6L128.5 288.5L125.6 291.4ZM100.9 221.4L103.8 218.5L106.7 221.4L103.8 224.3ZM122.7 154.3L125.6 151.4L128.5 154.3L125.6 157.2ZM122.7 71.3L125.6 68.4L128.5 71.3L125.6 74.2ZM179.8 381.2L182.7 378.3L185.6 381.2L182.7 384.1ZM179.8 330L182.7 327.1L185.6 330L182.7 332.9ZM179.8 247L182.7 244.1L185.6 247L182.7 249.9ZM201.6 179.9L204.5 177L207.4 179.9L204.5 182.8ZM179.8 112.8L182.7 109.9L185.6 112.8L182.7 115.7ZM228.5 397.1L231.4 394.2L234.3 397.1L231.4 400ZM250.3 330L253.2 327.1L256.1 330L253.2 332.9ZM250.3 247L253.2 244.1L256.1 247L253.2 249.9ZM250.3 195.8L253.2 192.9L256.1 195.8L253.2 198.7ZM250.3 112.8L253.2 109.9L256.1 112.8L253.2 115.7ZM329.2 355.6L332.1 352.7L335 355.6L332.1 358.5ZM307.4 288.5L310.3 285.6L313.2 288.5L310.3 291.4ZM329.2 221.4L332.1 218.5L335 221.4L332.1 224.3ZM329.2 138.4L332.1 135.5L335 138.4L332.1 141.3ZM252.9 63.4L255.8 60.5L258.7 63.4L255.8 66.3ZM204.1 79.3L207 76.4L209.9 79.3L207 82.2ZM125.3 104.9L128.2 102L131.1 104.9L128.2 107.8ZM76.5 120.7L79.4 117.8L82.3 120.7L79.4 123.6ZM283 104.9L285.9 102L288.8 104.9L285.9 107.8ZM225.9 146.4L228.8 143.5L231.7 146.4L228.8 149.3ZM155.4 146.4L158.3 143.5L161.2 146.4L158.3 149.3ZM98.3 187.8L101.2 184.9L104.1 187.8L101.2 190.7ZM19.4 213.5L22.3 210.6L25.2 213.5L22.3 216.4ZM331.8 172L334.7 169.1L337.6 172L334.7 174.9ZM283 187.8L285.9 184.9L288.8 187.8L285.9 190.7ZM204.1 213.5L207 210.6L209.9 213.5L207 216.4ZM147.1 254.9L150 252L152.9 254.9L150 257.8ZM76.5 254.9L79.4 252L82.3 254.9L79.4 257.8ZM361.9 213.5L364.8 210.6L367.7 213.5L364.8 216.4ZM304.8 254.9L307.7 252L310.6 254.9L307.7 257.8ZM225.9 280.6L228.8 277.7L231.7 280.6L228.8 283.5ZM177.2 296.4L180.1 293.5L183 296.4L180.1 299.3ZM98.3 322L101.2 319.1L104.1 322L101.2 324.9ZM353.6 322L356.5 319.1L359.4 322L356.5 324.9ZM283 322L285.9 319.1L288.8 322L285.9 324.9ZM225.9 363.5L228.8 360.6L231.7 363.5L228.8 366.4ZM147.1 389.1L150 386.2L152.9 389.1L150 392ZM274.7 63.4L277.6 60.5L280.5 63.4L277.6 66.3ZM147.1 104.9L150 102L152.9 104.9L150 107.8ZM304.8 104.9L307.7 102L310.6 104.9L307.7 107.8ZM204.1 146.4L207 143.5L209.9 146.4L207 149.3ZM76.5 187.8L79.4 184.9L82.3 187.8L79.4 190.7ZM353.6 172L356.5 169.1L359.4 172L356.5 174.9ZM225.9 213.5L228.8 210.6L231.7 213.5L228.8 216.4ZM125.3 254.9L128.2 252L131.1 254.9L128.2 257.8ZM19.4 280.6L22.3 277.7L25.2 280.6L22.3 283.5ZM383.7 213.5L386.6 210.6L389.5 213.5L386.6 216.4ZM283 254.9L285.9 252L288.8 254.9L285.9 257.8ZM155.4 296.4L158.3 293.5L161.2 296.4L158.3 299.3ZM76.5 322L79.4 319.1L82.3 322L79.4 324.9ZM304.8 322L307.7 319.1L310.6 322L307.7 324.9ZM204.1 363.5L207 360.6L209.9 363.5L207 366.4ZM98.3 389.1L101.2 386.2L104.1 389.1L101.2 392ZM34.5 141.5L37.4 138.6L40.3 141.5L37.4 144.4ZM162.1 100L165 97.1L167.9 100L165 102.9ZM34.5 192.7L37.4 189.8L40.3 192.7L37.4 195.6ZM140.3 167.1L143.2 164.2L146.1 167.1L143.2 170ZM268 125.6L270.9 122.7L273.8 125.6L270.9 128.5ZM34.5 275.7L37.4 272.8L40.3 275.7L37.4 278.6ZM162.1 234.2L165 231.3L167.9 234.2L165 237.1ZM268 208.6L270.9 205.7L273.8 208.6L270.9 211.5ZM368.6 167.1L371.5 164.2L374.4 167.1L371.5 170ZM34.5 326.9L37.4 324L40.3 326.9L37.4 329.8ZM140.3 301.3L143.2 298.4L146.1 301.3L143.2 304.2ZM268 259.8L270.9 256.9L273.8 259.8L270.9 262.7ZM346.8 234.2L349.7 231.3L352.6 234.2L349.7 237.1ZM162.1 368.4L165 365.5L167.9 368.4L165 371.3ZM268 342.8L270.9 339.9L273.8 342.8L270.9 345.7ZM368.6 301.3L371.5 298.4L374.4 301.3L371.5 304.2ZM377 234.2L379.9 231.3L382.8 234.2L379.9 237.1ZM346.8 192.7L349.7 189.8L352.6 192.7L349.7 195.6ZM298.1 125.6L301 122.7L303.9 125.6L301 128.5ZM268 84.2L270.9 81.3L273.8 84.2L270.9 87.1ZM346.8 275.7L349.7 272.8L352.6 275.7L349.7 278.6ZM289.8 234.2L292.7 231.3L295.6 234.2L292.7 237.1ZM268 167.1L270.9 164.2L273.8 167.1L270.9 170ZM210.9 125.6L213.8 122.7L216.7 125.6L213.8 128.5ZM162.1 58.5L165 55.6L167.9 58.5L165 61.4ZM298.1 342.8L301 339.9L303.9 342.8L301 345.7ZM268 301.3L270.9 298.4L273.8 301.3L270.9 304.2ZM219.2 234.2L222.1 231.3L225 234.2L222.1 237.1ZM162.1 192.7L165 189.8L167.9 192.7L165 195.6ZM140.3 125.6L143.2 122.7L146.1 125.6L143.2 128.5ZM268 384.2L270.9 381.3L273.8 384.2L270.9 387.1ZM210.9 342.8L213.8 339.9L216.7 342.8L213.8 345.7ZM162.1 275.7L165 272.8L167.9 275.7L165 278.6ZM132 234.2L134.9 231.3L137.8 234.2L134.9 237.1ZM83.2 167.1L86.1 164.2L89 167.1L86.1 170ZM162.1 409.9L165 407L167.9 409.9L165 412.8ZM140.3 342.8L143.2 339.9L146.1 342.8L143.2 345.7ZM83.2 301.3L86.1 298.4L89 301.3L86.1 304.2ZM34.5 234.2L37.4 231.3L40.3 234.2L37.4 237.1ZM383.7 254.9L386.6 252L389.5 254.9L386.6 257.8ZM304.8 146.4L307.7 143.5L310.6 146.4L307.7 149.3ZM353.6 296.4L356.5 293.5L359.4 296.4L356.5 299.3ZM283 213.5L285.9 210.6L288.8 213.5L285.9 216.4ZM204.1 104.9L207 102L209.9 104.9L207 107.8ZM304.8 363.5L307.7 360.6L310.6 363.5L307.7 366.4ZM225.9 254.9L228.8 252L231.7 254.9L228.8 257.8ZM155.4 172L158.3 169.1L161.2 172L158.3 174.9ZM98.3 79.3L101.2 76.4L104.1 79.3L101.2 82.2ZM274.7 405L277.6 402.1L280.5 405L277.6 407.9ZM204.1 322L207 319.1L209.9 322L207 324.9ZM125.3 213.5L128.2 210.6L131.1 213.5L128.2 216.4ZM76.5 146.4L79.4 143.5L82.3 146.4L79.4 149.3ZM147.1 363.5L150 360.6L152.9 363.5L150 366.4ZM76.5 280.6L79.4 277.7L82.3 280.6L79.4 283.5ZM19.4 187.8L22.3 184.9L25.2 187.8L22.3 190.7ZM252.9 405L255.8 402.1L258.7 405L255.8 407.9ZM283 363.5L285.9 360.6L288.8 363.5L285.9 366.4ZM331.8 296.4L334.7 293.5L337.6 296.4L334.7 299.3ZM361.9 254.9L364.8 252L367.7 254.9L364.8 257.8ZM204.1 389.1L207 386.2L209.9 389.1L207 392ZM225.9 322L228.8 319.1L231.7 322L228.8 324.9ZM283 280.6L285.9 277.7L288.8 280.6L285.9 283.5ZM304.8 213.5L307.7 210.6L310.6 213.5L307.7 216.4ZM353.6 146.4L356.5 143.5L359.4 146.4L356.5 149.3ZM125.3 363.5L128.2 360.6L131.1 363.5L128.2 366.4ZM155.4 322L158.3 319.1L161.2 322L158.3 324.9ZM204.1 254.9L207 252L209.9 254.9L207 257.8ZM225.9 187.8L228.8 184.9L231.7 187.8L228.8 190.7ZM283 146.4L285.9 143.5L288.8 146.4L285.9 149.3ZM76.5 347.7L79.4 344.8L82.3 347.7L79.4 350.6ZM98.3 280.6L101.2 277.7L104.1 280.6L101.2 283.5ZM147.1 213.5L150 210.6L152.9 213.5L150 216.4ZM177.2 172L180.1 169.1L183 172L180.1 174.9ZM225.9 104.9L228.8 102L231.7 104.9L228.8 107.8ZM19.4 254.9L22.3 252L25.2 254.9L22.3 257.8ZM76.5 213.5L79.4 210.6L82.3 213.5L79.4 216.4ZM98.3 146.4L101.2 143.5L104.1 146.4L101.2 149.3ZM147.1 79.3L150 76.4L152.9 79.3L150 82.2Z"/>
<defs>
<linearGradient id="cbg" x1="0" y1="1" x2="0" y2="0"><stop offset="0" stop-color="#000"/><stop offset="1" stop-color="#fff"/></linearGradient>
<filter id="cm" filterUnits="userSpaceOnUse" x="490" y="30" width="420" height="380" color-interpolation-filters="sRGB"><feComponentTransfer><feFuncR type="table" tableValues="0 0 0 0 0 0 0 0 0 0 0 0 0 0 0 0 0 0 0 0 0 0.024 0.141 0.261 0.388 0.516 0.643 0.762 0.847 0.932 1 1 1 1 1 0.998 0.994 0.991 0.987 0.984 0.98"/><feFuncG type="table" tableValues="0 0.105 0.209 0.314 0.405 0.497 0.588 0.686 0.784 0.871 0.91 0.939 0.929 0.92 0.91 0.903 0.91 0.916 0.923 0.929 0.936 0.941 0.941 0.943 0.953 0.963 0.973 0.982 0.988 0.995 0.98 0.882 0.784 0.686 0.588 0.494 0.403 0.312 0.221 0.13 0.039"/><feFuncB type="table" tableValues="0.502 0.557 0.612 0.667 0.706 0.745 0.784 0.826 0.868 0.906 0.925 0.931 0.882 0.833 0.784 0.737 0.698 0.659 0.62 0.58 0.541 0.506 0.486 0.471 0.471 0.471 0.471 0.468 0.455 0.442 0.425 0.39 0.356 0.322 0.288 0.249 0.207 0.165 0.123 0.081 0.039"/></feComponentTransfer></filter>
<filter id="cm0" filterUnits="userSpaceOnUse" x="860" y="60" width="40" height="290" color-interpolation-filters="sRGB"><feComponentTransfer><feFuncR type="table" tableValues="0 0 0 0 0 0 0 0 0 0 0 0 0 0 0 0 0 0 0 0 0 0.024 0.141 0.261 0.388 0.516 0.643 0.762 0.847 0.932 1 1 1 1 1 0.998 0.994 0.991 0.987 0.984 0.98"/><feFuncG type="table" tableValues="0 0.105 0.209 0.314 0.405 0.497 0.588 0.686 0.784 0.871 0.91 0.939 0.929 0.92 0.91 0.903 0.91 0.916 0.923 0.929 0.936 0.941 0.941 0.943 0.953 0.963 0.973 0.982 0.988 0.995 0.98 0.882 0.784 0.686 0.588 0.494 0.403 0.312 0.221 0.13 0.039"/><feFuncB type="table" tableValues="0.502 0.557 0.612 0.667 0.706 0.745 0.784 0.826 0.868 0.906 0.925 0.931 0.882 0.833 0.784 0.737 0.698 0.659 0.62 0.58 0.541 0.506 0.486 0.471 0.471 0.471 0.471 0.468 0.455 0.442 0.425 0.39 0.356 0.322 0.288 0.249 0.207 0.165 0.123 0.081 0.039"/></feComponentTransfer></filter>
<filter id="b1" filterUnits="userSpaceOnUse" x="490" y="30" width="420" height="380" color-interpolation-filters="sRGB"><feGaussianBlur stdDeviation="3.9"/></filter>
<filter id="b2" filterUnits="userSpaceOnUse" x="490" y="30" width="420" height="380" color-interpolation-filters="sRGB"><feGaussianBlur stdDeviation="2.2"/></filter>
<clipPath id="hc"><rect x="508" y="44.8" width="345.7" height="346.2"/></clipPath>
</defs>
<g clip-path="url(#hc)"><g filter="url(#cm)"><rect x="495" y="35" width="370" height="370" fill="#000"/><g filter="url(#b1)"><g fill="#fff">
<rect x="666.3" y="149.5" width="15.0" height="15.0" opacity="1.000"/>
<rect x="734" y="217.2" width="15.0" height="15.0" opacity="1.000"/>
<rect x="623.1" y="216.4" width="16" height="16" opacity="0.660"/>
<rect x="666.1" y="259.4" width="16" height="16" opacity="0.660"/>
<rect x="666.8" y="65.8" width="14" height="14" opacity="0.320"/>
<rect x="818.7" y="217.7" width="14" height="14" opacity="0.320"/>
<rect x="623.1" y="106.6" width="16" height="16" opacity="0.520"/>
<rect x="775.9" y="259.4" width="16" height="16" opacity="0.520"/>
<rect x="734.2" y="106.6" width="16" height="16" opacity="0.500"/>
<rect x="775.9" y="148.3" width="16" height="16" opacity="0.500"/>
<rect x="582.7" y="149" width="14" height="14" opacity="0.300"/>
<rect x="735.5" y="301.8" width="14" height="14" opacity="0.300"/>
<rect x="511.1" y="190.7" width="16" height="16" opacity="0.440"/>
<rect x="691.8" y="371.4" width="16" height="16" opacity="0.440"/>
<rect x="609.3" y="191.7" width="14" height="14" opacity="0.241"/>
<rect x="692.8" y="275.2" width="14" height="14" opacity="0.241"/>
<rect x="637.1" y="189.8" width="14" height="14" opacity="0.380"/>
<rect x="694.7" y="247.4" width="14" height="14" opacity="0.380"/>
<rect x="652" y="202.8" width="14" height="14" opacity="0.340"/>
<rect x="681.7" y="232.5" width="14" height="14" opacity="0.340"/>
<rect x="694.4" y="163" width="14" height="14" opacity="0.218"/>
<rect x="721.5" y="190.1" width="14" height="14" opacity="0.218"/>
<rect x="693.4" y="79.7" width="14" height="14" opacity="0.230"/>
<rect x="804.8" y="191.1" width="14" height="14" opacity="0.230"/>
<rect x="680.4" y="93.6" width="14" height="14" opacity="0.241"/>
<rect x="790.9" y="204.1" width="14" height="14" opacity="0.241"/>
<rect x="693.4" y="51.9" width="14" height="14" opacity="0.138"/>
<rect x="832.6" y="191.1" width="14" height="14" opacity="0.138"/>
<rect x="762.7" y="107.5" width="14" height="14" opacity="0.184"/>
<rect x="777" y="121.8" width="14" height="14" opacity="0.184"/>
<rect x="776.6" y="65.8" width="14" height="14" opacity="0.265"/>
<rect x="818.7" y="107.9" width="14" height="14" opacity="0.265"/>
<rect x="582.7" y="259" width="14" height="14" opacity="0.276"/>
<rect x="625.5" y="301.8" width="14" height="14" opacity="0.276"/>
<rect x="666.8" y="118.7" width="14" height="14" opacity="0.310"/>
<rect x="765.8" y="217.7" width="14" height="14" opacity="0.310"/>
<rect x="514.1" y="67.7" width="12" height="12" opacity="0.075"/>
<rect x="818.8" y="372.4" width="12" height="12" opacity="0.075"/>
<rect x="514.1" y="94.6" width="12" height="12" opacity="0.083"/>
<rect x="791.9" y="372.4" width="12" height="12" opacity="0.083"/>
<rect x="583.7" y="67.7" width="12" height="12" opacity="0.083"/>
<rect x="818.8" y="302.8" width="12" height="12" opacity="0.083"/>
<rect x="556.8" y="108.6" width="12" height="12" opacity="0.075"/>
<rect x="777.9" y="329.7" width="12" height="12" opacity="0.075"/>
<rect x="513" y="121.5" width="12" height="12" opacity="0.068"/>
<rect x="765" y="373.5" width="12" height="12" opacity="0.068"/>
<rect x="583.7" y="119.7" width="12" height="12" opacity="0.068"/>
<rect x="766.8" y="302.8" width="12" height="12" opacity="0.068"/>
<rect x="723" y="43.6" width="12" height="12" opacity="0.068"/>
<rect x="842.9" y="163.5" width="12" height="12" opacity="0.068"/>
<rect x="612" y="45.4" width="12" height="12" opacity="0.068"/>
<rect x="841.1" y="274.5" width="12" height="12" opacity="0.068"/>
<rect x="514" y="150" width="12" height="12" opacity="0.105"/>
<rect x="736.5" y="372.5" width="12" height="12" opacity="0.105"/>
<rect x="542.8" y="150" width="12" height="12" opacity="0.090"/>
<rect x="736.5" y="343.7" width="12" height="12" opacity="0.090"/>
<rect x="529.8" y="164" width="12" height="12" opacity="0.068"/>
<rect x="722.5" y="356.7" width="12" height="12" opacity="0.068"/>
<rect x="542.8" y="192.7" width="12" height="12" opacity="0.120"/>
<rect x="693.8" y="343.7" width="12" height="12" opacity="0.120"/>
<rect x="570.7" y="192.7" width="12" height="12" opacity="0.120"/>
<rect x="693.8" y="315.8" width="12" height="12" opacity="0.120"/>
<rect x="667.8" y="168.6" width="12" height="12" opacity="0.105"/>
<rect x="717.9" y="218.7" width="12" height="12" opacity="0.105"/>
<rect x="735.3" y="127.7" width="12" height="12" opacity="0.068"/>
<rect x="758.8" y="151.2" width="12" height="12" opacity="0.068"/>
<rect x="514" y="234" width="12" height="12" opacity="0.120"/>
<rect x="652.5" y="372.5" width="12" height="12" opacity="0.120"/>
<rect x="514" y="260" width="12" height="12" opacity="0.105"/>
<rect x="626.5" y="372.5" width="12" height="12" opacity="0.105"/>
<rect x="557.7" y="215.6" width="12" height="12" opacity="0.090"/>
<rect x="670.9" y="328.8" width="12" height="12" opacity="0.090"/>
<rect x="529.6" y="370" width="12" height="12" opacity="0.068"/>
<rect x="516.5" y="356.9" width="12" height="12" opacity="0.068"/>
<rect x="557" y="372" width="12" height="12" opacity="0.068"/>
<rect x="514.5" y="329.5" width="12" height="12" opacity="0.068"/>
<rect x="557" y="301.7" width="12" height="12" opacity="0.022"/>
<rect x="584.8" y="329.5" width="12" height="12" opacity="0.022"/>
<rect x="625" y="127.7" width="12" height="12" opacity="0.068"/>
<rect x="758.8" y="261.5" width="12" height="12" opacity="0.068"/>
<rect x="506" y="376" width="12" height="12" opacity="0.075"/>
<rect x="510.5" y="380.5" width="12" height="12" opacity="0.075"/>
</g><g stroke="#fff" stroke-linecap="round" fill="none">
<line x1="509" y1="48" x2="509" y2="388" stroke-width="4" opacity="0.050"/>
<line x1="850.5" y1="389.5" x2="510.5" y2="389.5" stroke-width="4" opacity="0.050"/>
<line x1="643" y1="100.6" x2="669.6" y2="78" stroke-width="13" opacity="0.030"/>
<line x1="797.9" y1="255.5" x2="820.5" y2="228.9" stroke-width="13" opacity="0.030"/>
<line x1="644.1" y1="196.8" x2="659" y2="209.8" stroke-width="12" opacity="0.300"/>
<line x1="701.7" y1="254.4" x2="688.7" y2="239.5" stroke-width="12" opacity="0.300"/>
<line x1="519" y1="199" x2="510" y2="214" stroke-width="9" opacity="0.300"/>
<line x1="699.5" y1="379.5" x2="684.5" y2="388.5" stroke-width="9" opacity="0.300"/>
<line x1="509.5" y1="214" x2="509.5" y2="285" stroke-width="5" opacity="0.100"/>
<line x1="684.5" y1="389" x2="613.5" y2="389" stroke-width="5" opacity="0.100"/>
<line x1="793.8" y1="84.8" x2="814.2" y2="101.5" stroke-width="12" opacity="0.030"/>
<line x1="685.5" y1="196.5" x2="702.9" y2="211.8" stroke-width="20" opacity="0.580"/>
</g></g><g filter="url(#b2)" fill="#fff">
<rect x="684.3" y="195.1" width="9" height="8.5" opacity="0.95"/>
<rect x="695.2" y="205.3" width="9" height="8.5" opacity="0.95"/>
<rect x="690.2" y="200.6" width="8" height="8" opacity="0.6"/>
<rect x="671.3" y="154.5" width="5" height="5" opacity="0.9"/>
<rect x="739.5" y="222" width="5" height="5" opacity="0.9"/>
</g></g></g>
<rect x="874.5" y="67" width="15.3" height="274" fill="url(#cbg)" filter="url(#cm0)"/>
<rect x="873" y="65.5" width="18.3" height="277" rx="2.5" fill="none" stroke="#000" stroke-width="3"/>
<path fill="#000" d="M505.5 43H511.8V45H508V391H853.7V387.7H856.3V393.4H505.5Z"/>
<g font-family="'Liberation Serif','Times New Roman',serif" fill="#000"><text x="22.5" y="40.3" font-size="38.8">(a)</text>
<text x="408" y="41.9" font-size="37.6">(b)</text>
<text x="463" y="42" font-size="41" font-weight="bold" font-style="italic">p</text>
<text x="484.5" y="51.4" font-size="26" font-weight="bold" font-style="italic">x</text>
<text x="495" y="101.8" font-size="29" font-weight="bold" text-anchor="end">5</text>
<text x="495" y="213.8" font-size="29" font-weight="bold" text-anchor="end">0</text>
<text x="495" y="310" font-size="29" font-weight="bold" text-anchor="end">-5</text>
<text x="597.9" y="426" font-size="29" font-weight="bold" text-anchor="middle">-5</text>
<text x="694.5" y="426.2" font-size="29" font-weight="bold" text-anchor="middle">0</text>
<text x="805.4" y="426" font-size="29" font-weight="bold" text-anchor="middle">5</text>
<text x="858.5" y="56" font-size="30" font-weight="bold">Max</text>
<text x="886" y="384.6" font-size="34" font-weight="bold" text-anchor="middle">0</text>
<text x="633.5" y="460.8" font-weight="bold"><tspan font-size="35.5">E</tspan><tspan font-size="24" dy="8.7">m</tspan><tspan font-size="35.5" dy="-8.7" dx="-1.5">/</tspan><tspan font-size="35.5" dx="-2">t</tspan><tspan font-size="22.5" dx="1" letter-spacing="1">(10</tspan><tspan font-size="15.5" dy="-10.3" dx="0.5" letter-spacing="-0.6">-3</tspan><tspan font-size="22.5" dy="10.3" dx="0">)</tspan></text>
<text transform="translate(458.8 281.5) rotate(-90)" font-weight="bold"><tspan font-size="35.5">E</tspan><tspan font-size="24" dy="8.7">n</tspan><tspan font-size="35.5" dy="-8.7" dx="-1.5">/</tspan><tspan font-size="35.5" dx="-2">t</tspan><tspan font-size="22.5" dx="9" letter-spacing="1">(10</tspan><tspan font-size="15.5" dy="-10.3" dx="-2" letter-spacing="-0.6">-3</tspan><tspan font-size="22.5" dy="10.3" dx="0">)</tspan></text></g>
</svg>
</body></html>
